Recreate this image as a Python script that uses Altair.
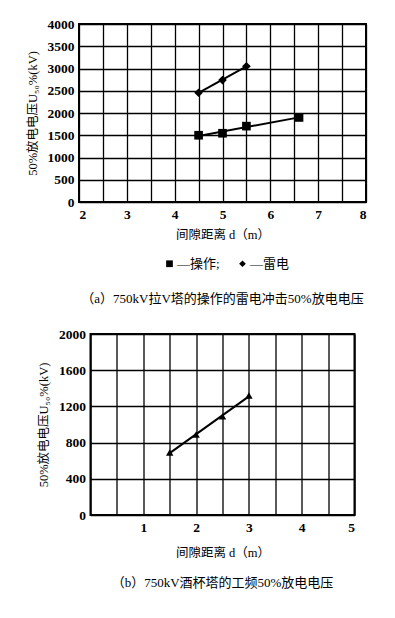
import altair as alt
import pandas as pd

SERIES = ["操作", "雷电"]
op_d = [4.5, 5.0, 5.5, 6.6]
op_u = [1500, 1545, 1705, 1900]
lt_d = [4.5, 5.0, 5.5]
lt_u = [2455, 2740, 3050]
pf_d = [1.5, 2.0, 2.5, 3.0]
pf_u = [690, 890, 1090, 1320]

top_x_values = [2, 2.5, 3, 3.5, 4, 4.5, 5, 5.5, 6, 6.5, 7, 7.5, 8]
top_y_values = [0, 500, 1000, 1500, 2000, 2500, 3000, 3500, 4000]
bot_x_values = [0, 0.5, 1, 1.5, 2, 2.5, 3, 3.5, 4, 4.5, 5]
bot_y_values = [0, 400, 800, 1200, 1600, 2000]

YLAB = "50%放电电压U₅₀%(kV)"
XLAB = "间隙距离 d（m）"
CAP_A = "（a）750kV拉V塔的操作的雷电冲击50%放电电压"
CAP_B = "（b）750kV酒杯塔的工频50%放电电压"

NUM_FONT = "Liberation Serif, Noto Sans CJK SC"
CJK_FONT = "Liberation Serif, Noto Sans CJK SC"

top_df = pd.DataFrame({
    "d": op_d + lt_d,
    "u": op_u + lt_u,
    "series": [SERIES[0]] * len(op_d) + [SERIES[1]] * len(lt_d),
})
bot_df = pd.DataFrame({"d": pf_d, "u": pf_u})


def x_axis(values, hide_zero=False, title_pad=8):
    cond = "datum.value % 1 == 0" + (" && datum.value > 0" if hide_zero else "")
    return alt.Axis(values=values, format=".0f", titlePadding=title_pad,
                    labelExpr=f"{cond} ? format(datum.value, 'd') : ''", title=XLAB)


def y_axis(values):
    return alt.Axis(values=values, format="d", title=YLAB)


top_x = alt.X("d:Q", scale=alt.Scale(domain=[2, 8], nice=False, zero=False), axis=x_axis(top_x_values))
top_y = alt.Y("u:Q", scale=alt.Scale(domain=[0, 4000], nice=False), axis=y_axis(top_y_values))

top_base = alt.Chart(top_df)
top_line = top_base.transform_regression("d", "u", groupby=["series"]).mark_line(
    color="black", strokeWidth=2
).encode(x=top_x, y=top_y, detail="series:N")
top_pts = top_base.mark_point(filled=True, color="black", opacity=1, size=75).encode(
    x=top_x,
    y=top_y,
    shape=alt.Shape(
        "series:N",
        scale=alt.Scale(domain=SERIES, range=["square", "diamond"]),
        legend=alt.Legend(
            orient="none",
            legendX=84,
            legendY=233,
            direction="horizontal",
            title=None,
            labelExpr="'—' + datum.label + (datum.label == '操作' ? ';' : '')",
            labelFont=CJK_FONT,
            labelFontSize=13,
            labelColor="black",
            symbolSize=45,
            symbolFillColor="black",
            symbolStrokeColor="black",
            columnPadding=16,
            labelOffset=1,
        ),
    ),
)
top = alt.layer(top_line, top_pts).properties(
    width=287, height=178,
    title=alt.TitleParams(CAP_A, orient="bottom", font=CJK_FONT, fontSize=13,
                          fontWeight="normal", offset=22),
)

bot_x = alt.X("d:Q", scale=alt.Scale(domain=[0, 5], nice=False),
              axis=x_axis(bot_x_values, True, 13))
bot_y = alt.Y("u:Q", scale=alt.Scale(domain=[0, 2000], nice=False), axis=y_axis(bot_y_values))
bot_base = alt.Chart(bot_df)
bot_line = bot_base.transform_regression("d", "u").mark_line(color="black", strokeWidth=2).encode(
    x=bot_x, y=bot_y)
bot_pts = bot_base.mark_point(filled=True, color="black", opacity=1, shape="triangle-up", size=55).encode(
    x=bot_x, y=bot_y)
bot = alt.layer(bot_line, bot_pts).properties(
    width=264, height=181,
    title=alt.TitleParams(CAP_B, orient="bottom", font=CJK_FONT, fontSize=13,
                          fontWeight="normal", offset=18),
)

chart = alt.vconcat(top, bot, center=True, spacing=19).resolve_scale(
    shape="independent"
).resolve_legend(shape="independent").properties(
    padding={"left": 17, "top": 8, "right": 5, "bottom": 5}
).configure_view(
    stroke="black", strokeWidth=2
).configure_axis(
    grid=True, gridColor="black", gridOpacity=1, gridWidth=1.3,
    ticks=False, domain=False,
    labelFont=NUM_FONT, labelFontSize=13.5, labelFontWeight="bold", labelColor="black",
    labelPadding=5,
    titleFont=CJK_FONT, titleFontSize=12.5, titleFontWeight="normal", titleColor="black",
).configure_axisY(titlePadding=8)

chart.save("out.html", embed_options={"renderer": "svg", "actions": False})
